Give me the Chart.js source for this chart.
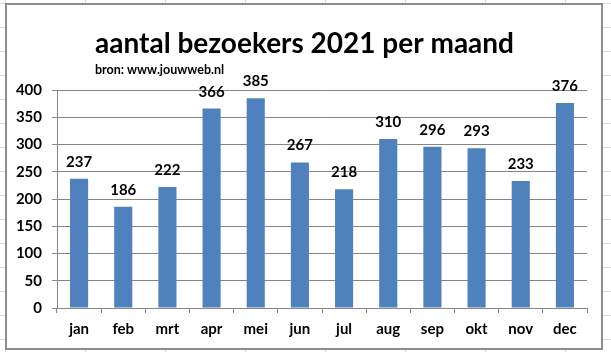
<!DOCTYPE html>
<html><head><meta charset="utf-8">
<script src="https://cdn.jsdelivr.net/npm/chart.js@4/dist/chart.umd.min.js"></script>
<style>
html,body{margin:0;padding:0;background:#fff;}
body{width:611px;height:352px;overflow:hidden;position:relative;
 background-image:linear-gradient(to right,#dadada 1px,transparent 1px),linear-gradient(to bottom,#dadada 1px,transparent 1px);
 background-size:80px 24px;background-position:5px 3px;}
#frame{position:absolute;left:5px;top:3px;width:598px;height:347px;border:2px solid #8c8c8c;background:#fff;box-sizing:border-box;}
#c{position:absolute;left:0;top:0;}
</style></head>
<body>
<div id="frame"></div>
<canvas id="c" width="611" height="352"></canvas>
<script>
const months = ['jan','feb','mrt','apr','mei','jun','jul','aug','sep','okt','nov','dec'];
const visitors = [237,186,222,366,385,267,218,310,296,293,233,376];
const yMin = 0, yMax = 400, yStep = 50;
const titleText = 'aantal bezoekers 2021 per maand';
const subtitleText = 'bron: www.jouwweb.nl';

const FONT = 'Lato';
const textPlugin = {
  id: 'texts',
  afterDraw(chart) {
    const ctx = chart.ctx;
    ctx.save();
    ctx.fillStyle = '#000';
    ctx.textBaseline = 'alphabetic';
    ctx.textAlign = 'left';
    ctx.font = 'bold 28px ' + FONT;
    const w = ctx.measureText(titleText).width;
    const x0 = 304.5 - w / 2;
    ctx.fillText(titleText, x0, 52.5);
    ctx.font = 'bold 12.5px ' + FONT;
    ctx.fillText(subtitleText, x0, 74);
    const meta = chart.getDatasetMeta(0);
    ctx.font = 'bold 15px ' + FONT;
    ctx.textAlign = 'center';
    meta.data.forEach((bar, i) => {
      ctx.fillText(String(chart.data.datasets[0].data[i]), bar.x, bar.y - 12);
    });
    ctx.restore();
  }
};

const tickFont = {family: FONT, size: 15, weight: 'bold'};
const gridColor = '#868686';

function build() {
  new Chart(document.getElementById('c'), {
    type: 'bar',
    data: {
      labels: months,
      datasets: [{
        data: visitors,
        backgroundColor: '#4F81BD',
        borderWidth: 0,
        categoryPercentage: 0.41,
        barPercentage: 1
      }]
    },
    options: {
      responsive: false,
      animation: false,
      layout: {padding: {left: 0, right: 24, top: 90, bottom: 0}},
      plugins: {legend: {display: false}, tooltip: {enabled: false}, title: {display: false}},
      scales: {
        x: {
          grid: {offset: true, drawOnChartArea: false, drawTicks: true, tickLength: 5, color: gridColor},
          border: {color: gridColor},
          ticks: {font: tickFont, color: '#000', padding: 7},
          afterFit: s => { s.height = 44; }
        },
        y: {
          min: yMin, max: yMax,
          ticks: {stepSize: yStep, font: tickFont, color: '#000', padding: 10},
          grid: {color: gridColor, tickLength: 5},
          border: {color: gridColor},
          afterFit: s => { s.width = 57; }
        }
      }
    },
    plugins: [textPlugin]
  });
}
if (document.fonts && document.fonts.load) {
  Promise.all([document.fonts.load('bold 15px Lato'), document.fonts.load('bold 28px Lato')]).then(build, build);
} else build();
</script>
</body></html>
